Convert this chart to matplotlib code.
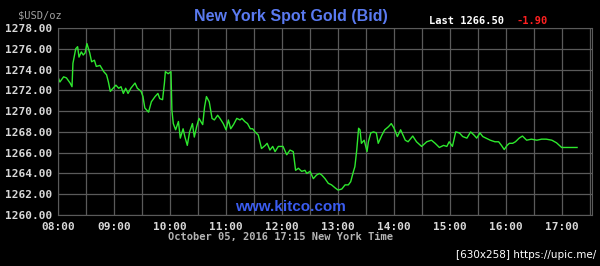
import matplotlib
matplotlib.use('Agg')
from matplotlib import pyplot as plt

# minutes after 08:00 and bid price
minutes = [0, 2, 6, 9, 13, 15, 16, 19, 21, 22.5, 25, 27, 29, 31, 34, 36, 39, 41, 45, 49,
           52, 54, 56, 59, 62, 65, 67.5, 70, 72.5, 75, 78, 82.5, 85, 89, 91, 93, 97, 100, 104, 107,
           109, 112, 114, 115, 118, 121, 122, 123.5, 126, 129, 131, 134, 136, 138.5, 141, 144, 146, 148.5, 151, 153,
           155, 157, 159, 162, 165, 167.5, 171, 173.5, 177, 180, 182.5, 185, 188, 191.5, 195, 197, 200, 203, 206, 208.5,
           211, 214.5, 218, 222, 224, 227, 230, 232.5, 236, 241, 245, 248.5, 252, 254.5, 257.5, 261, 264.5, 266.5, 270, 273.5,
           277, 280, 282.5, 286, 289.5, 293, 297, 300, 304, 307.5, 311, 313.5, 316.5, 318, 320, 322, 323.5, 325, 328, 331,
           332.5, 335, 338, 341, 343, 347, 350, 354, 357, 360, 363.5, 367, 372, 375, 380, 384, 389.5, 395, 400, 404,
           408.5, 413, 416.5, 419, 422.5, 426, 430, 433.5, 438, 442, 445.5, 448.5, 452, 455, 458.5, 463, 468, 472, 475, 478,
           481, 483.5, 487, 490, 494, 497.5, 502, 507, 513, 518, 523, 529, 534, 539.5, 545, 556]
prices = [1273.3, 1272.8, 1273.3, 1273.2, 1272.7, 1272.35, 1274.6, 1276.0, 1276.2, 1275.2, 1275.7, 1275.4, 1275.6, 1276.5, 1275.6, 1274.75, 1274.9, 1274.3, 1274.4, 1273.8,
          1273.5, 1272.8, 1271.9, 1272.2, 1272.5, 1272.2, 1272.35, 1271.7, 1272.2, 1271.7, 1272.2, 1272.7, 1272.2, 1271.9, 1271.4, 1270.3, 1269.9, 1270.9, 1271.4, 1271.7,
          1271.2, 1271.1, 1272.7, 1273.8, 1273.6, 1273.8, 1270.1, 1268.8, 1268.2, 1269.0, 1267.4, 1268.3, 1267.5, 1266.7, 1268.0, 1268.8, 1267.5, 1268.5, 1269.3, 1269.0,
          1268.7, 1270.4, 1271.4, 1270.9, 1269.3, 1269.15, 1269.6, 1269.3, 1268.8, 1268.2, 1269.15, 1268.3, 1268.7, 1269.3, 1269.15, 1269.3, 1269.0, 1268.8, 1268.3, 1268.3,
          1268.0, 1267.7, 1266.4, 1266.7, 1266.9, 1266.25, 1266.6, 1266.1, 1266.6, 1266.6, 1265.8, 1266.25, 1266.1, 1264.3, 1264.5, 1264.2, 1264.3, 1264.0, 1264.2, 1263.5,
          1263.85, 1264.0, 1263.85, 1263.5, 1263.05, 1262.9, 1262.6, 1262.4, 1262.5, 1262.9, 1262.9, 1263.2, 1264.2, 1264.65, 1266.25, 1268.35, 1268.2, 1266.9, 1267.2, 1266.1,
          1267.05, 1267.9, 1268.0, 1267.9, 1266.9, 1267.7, 1268.2, 1268.5, 1268.8, 1268.35, 1267.55, 1268.2, 1267.2, 1267.05, 1267.6, 1267.05, 1266.6, 1267.05, 1267.2, 1266.9,
          1266.5, 1266.7, 1266.6, 1267.05, 1266.6, 1268.0, 1267.9, 1267.55, 1267.4, 1268.0, 1267.7, 1267.4, 1267.9, 1267.55, 1267.4, 1267.2, 1267.05, 1267.05, 1266.7, 1266.3,
          1266.7, 1266.9, 1266.9, 1267.05, 1267.4, 1267.6, 1267.2, 1267.3, 1267.2, 1267.3, 1267.3, 1267.2, 1266.95, 1266.5, 1266.5, 1266.5]

hour_ticks = [0, 60, 120, 180, 240, 300, 360, 420, 480, 540]
hour_labels = ['08:00', '09:00', '10:00', '11:00', '12:00', '13:00', '14:00', '15:00', '16:00', '17:00']
half_ticks = [30, 90, 150, 210, 270, 330, 390, 450, 510, 570]
price_ticks = [1260, 1262, 1264, 1266, 1268, 1270, 1272, 1274, 1276, 1278]

W, H = 600, 266
fig = plt.figure(figsize=(6, 2.66), dpi=100, facecolor='black')
ax = fig.add_axes([58 / W, 1 - 215 / H, 534 / W, 187 / H], facecolor='black')

ax.plot(minutes, prices, color='#2ee82e', lw=1.0)

ax.set_xlim(0, 572)
ax.set_ylim(1260, 1278)
ax.set_xticks(hour_ticks)
ax.set_xticklabels(hour_labels)
ax.set_xticks(half_ticks, minor=True)
ax.set_yticks(price_ticks)
ax.set_yticklabels(['%.2f' % p for p in price_ticks])
ax.grid(True, which='both', color='#5a5a5a', lw=0.9)
ax.set_axisbelow(True)
ax.tick_params(which='both', length=0, colors='#d8d8d8', labelsize=8)
ax.tick_params(axis='x', pad=5)
ax.tick_params(axis='y', pad=4)
for lab in ax.get_xticklabels() + ax.get_yticklabels():
    lab.set_family('DejaVu Sans Mono')
    lab.set_fontweight('bold')
for s in ax.spines.values():
    s.set_color('#5a5a5a')

mono = 'DejaVu Sans Mono'
fig.text(18 / W, 1 - 16 / H, '$USD/oz', color='#a0a0a0', fontsize=7.5, family=mono, va='center')
fig.text(291 / W, 1 - 16 / H, 'New York Spot Gold (Bid)', color='#5a7af0', fontsize=11.5,
         family='Liberation Sans', fontweight='bold', ha='center', va='center')
fig.text(429 / W, 1 - 21 / H, 'Last 1266.50', color='white', fontsize=7.5, family=mono,
         fontweight='bold', va='center')
fig.text(517 / W, 1 - 21 / H, '-1.90', color='#ff2020', fontsize=7.5, family=mono,
         fontweight='bold', va='center')
fig.text(290 / W, 1 - 207 / H, 'www.kitco.com', color='#3a5cf0', fontsize=11,
         family='Liberation Sans', fontweight='bold', ha='center', va='center')
fig.text(281 / W, 1 - 237 / H, 'October 05, 2016 17:15 New York Time', color='#b4b4b4',
         fontsize=7.5, family=mono, fontweight='bold', ha='center', va='center')
fig.text(596 / W, 1 - 255 / H, '[630x258] https://upic.me/', color='white', fontsize=7.5,
         ha='right', va='center')

fig.savefig('out.png', dpi=100, facecolor='black')
